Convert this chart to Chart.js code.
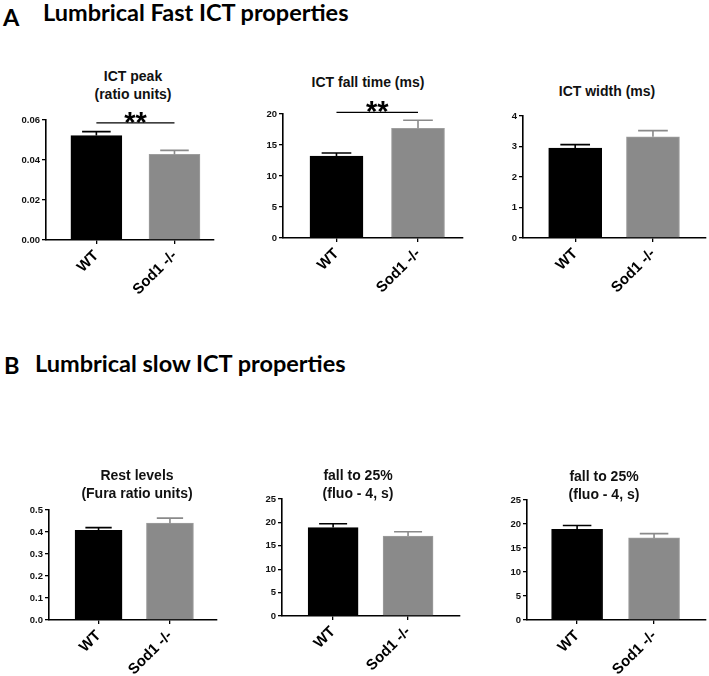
<!DOCTYPE html>
<html lang="en">
<head>
<meta charset="UTF-8">
<title>Lumbrical ICT properties</title>
<script src="https://cdn.jsdelivr.net/npm/chart.js"></script>
<style>
  html, body { margin: 0; padding: 0; background: #fff; overflow: hidden; }
  #page { position: relative; width: 709px; height: 676px; }
  .hdr { position: absolute; font-family: Lato, "DejaVu Sans", sans-serif; font-weight: 700; font-size: 23.5px; line-height: 24px; color: #000; white-space: nowrap; }
  .ttl { position: absolute; width: 220px; text-align: center; font-family: "Liberation Sans", Arial, sans-serif; font-weight: 700; font-size: 14px; line-height: 18px; color: #111; }
  .box { position: absolute; }
</style>
</head>
<body>
<div id="page">
  <div class="hdr" style="left:3px; top:5px;">A</div>
  <div class="hdr" style="left:43px; top:0px;">Lumbrical Fast ICT properties</div>
  <div class="hdr" style="left:4px; top:353px;">B</div>
  <div class="hdr" style="left:35px; top:351px;">Lumbrical slow ICT properties</div>
</div>

<script>
// groups on the x axis
const groups = ['WT', 'Sod1 -/-'];

// A - fast ICT
const peakMean = [0.0522, 0.0428];
const peakSem  = [0.0020, 0.0020];
const fallMean = [13.2, 17.7];
const fallSem  = [0.5, 1.3];
const widthMean = [2.95, 3.32];
const widthSem  = [0.11, 0.20];

// B - slow ICT
const restMean = [0.408, 0.440];
const restSem  = [0.012, 0.023];
const fall25Mean = [18.9, 17.1];
const fall25Sem  = [0.8, 0.9];
const fall25bMean = [18.9, 17.1];
const fall25bSem  = [0.8, 0.9];

// significance bars (y value of the line, null = none)
const sigLevel = [0.0586, 20.25, null, null, null, null];
const sigText = ['**', '**', '', '', '', ''];

const barColors = ['#000000', '#8a8a8a'];
const errColors = ['#000000', '#8a8a8a'];

// layout: chart area [left, top, right, bottom] in page px, x range, bar width, title
const panels = [
  { title: ['ICT peak', '(ratio units)'], mean: peakMean, sem: peakSem, max: 0.06, step: 0.02, dec: 2,
    area: [46, 120, 214, 240], xr: [0.355, 2.506], bw: 51, tx: 133, ty: 76 },
  { title: ['ICT fall time (ms)'], mean: fallMean, sem: fallSem, max: 20, step: 5, dec: 0,
    area: [283, 114, 463, 238], xr: [0.344, 2.552], bw: 53, tx: 368, ty: 82 },
  { title: ['ICT width (ms)'], mean: widthMean, sem: widthSem, max: 4, step: 1, dec: 0,
    area: [523, 116, 706, 238], xr: [0.329, 2.682], bw: 53, tx: 607, ty: 91 },
  { title: ['Rest levels', '(Fura ratio units)'], mean: restMean, sem: restSem, max: 0.5, step: 0.1, dec: 1,
    area: [49, 510, 217, 620], xr: [0.306, 2.659], bw: 47, tx: 137, ty: 475 },
  { title: ['fall to 25%', '(fluo - 4, s)'], mean: fall25Mean, sem: fall25Sem, max: 25, step: 5, dec: 0,
    area: [282, 499, 460, 616], xr: [0.318, 2.693], bw: 50, tx: 358, ty: 475 },
  { title: ['fall to 25%', '(fluo - 4, s)'], mean: fall25bMean, sem: fall25bSem, max: 25, step: 5, dec: 0,
    area: [527, 500, 706, 620], xr: [0.349, 2.675], bw: 51, tx: 604, ty: 476 }
];

const YW = 44, XH = 72, PADT = 14, PADR = 2;
const tickFont = { family: '"Liberation Sans", Arial, sans-serif', weight: 'bold' };

// mean + SEM error bars (upper half only, like the original)
const errorBars = {
  id: 'errorBars',
  afterDatasetsDraw(chart) {
    const ds = chart.data.datasets[0];
    const y = chart.scales.y;
    const ctx = chart.ctx;
    chart.getDatasetMeta(0).data.forEach((bar, i) => {
      const top = y.getPixelForValue(ds.data[i].y + ds.sem[i]);
      const cap = bar.width * 0.28;
      ctx.save();
      ctx.strokeStyle = errColors[i];
      ctx.lineWidth = 1.6;
      ctx.beginPath();
      ctx.moveTo(bar.x, bar.y);
      ctx.lineTo(bar.x, top);
      ctx.moveTo(bar.x - cap, top);
      ctx.lineTo(bar.x + cap, top);
      ctx.stroke();
      ctx.restore();
    });
  }
};

// significance line with stars
const sigMarks = {
  id: 'sigMarks',
  afterDatasetsDraw(chart) {
    const ds = chart.data.datasets[0];
    if (ds.sig == null) return;
    const ctx = chart.ctx;
    const bars = chart.getDatasetMeta(0).data;
    const yy = chart.scales.y.getPixelForValue(ds.sig);
    const x1 = bars[0].x, x2 = bars[1].x;
    ctx.save();
    ctx.strokeStyle = '#000';
    ctx.lineWidth = 1.3;
    ctx.beginPath();
    ctx.moveTo(x1, yy);
    ctx.lineTo(x2, yy);
    ctx.stroke();
    ctx.fillStyle = '#000';
    ctx.font = 'bold 29px "Liberation Sans", Arial, sans-serif';
    ctx.textAlign = 'center';
    ctx.textBaseline = 'middle';
    ctx.fillText(ds.sigLabel, (x1 + x2) / 2, yy + 1);
    ctx.restore();
  }
};

const page = document.getElementById('page');

panels.forEach((p, k) => {
  const [L, T, R, B] = p.area;
  const left = L - YW, top = T - PADT;
  const w = R - left + PADR, h = B - top + XH;

  const box = document.createElement('div');
  box.className = 'box';
  box.style.cssText = `left:${left}px; top:${top}px; width:${w}px; height:${h}px;`;
  const cv = document.createElement('canvas');
  box.appendChild(cv);
  page.appendChild(box);

  const ttl = document.createElement('div');
  ttl.className = 'ttl';
  ttl.style.left = (p.tx - 110) + 'px';
  ttl.style.top = (p.ty - 9) + 'px';
  ttl.innerHTML = p.title.join('<br>');
  page.appendChild(ttl);

  new Chart(cv, {
    type: 'bar',
    data: {
      datasets: [{
        data: groups.map((g, i) => ({ x: i + 1, y: p.mean[i] })),
        sem: p.sem,
        sig: sigLevel[k],
        sigLabel: sigText[k],
        backgroundColor: barColors,
        borderColor: ['#000000', '#9e9e9e'],
        borderWidth: 1,
        barThickness: p.bw
      }]
    },
    options: {
      responsive: true,
      maintainAspectRatio: false,
      animation: false,
      layout: { autoPadding: false, padding: { top: PADT, right: PADR, left: 0, bottom: 0 } },
      plugins: { legend: { display: false }, tooltip: { enabled: false } },
      scales: {
        x: {
          type: 'linear',
          offset: false,
          min: p.xr[0],
          max: p.xr[1],
          afterBuildTicks: s => { s.ticks = groups.map((g, i) => ({ value: i + 1 })); },
          afterFit: s => { s.height = XH; },
          border: { color: '#000', width: 1.6 },
          grid: { offset: false, drawOnChartArea: false, drawTicks: true, tickLength: 4, color: '#000', lineWidth: 1.3 },
          ticks: {
            callback: v => groups[v - 1],
            minRotation: 45, maxRotation: 45, autoSkip: false,
            padding: 3, color: '#000',
            font: Object.assign({ size: 15 }, tickFont)
          }
        },
        y: {
          min: 0,
          max: p.max,
          afterFit: s => { s.width = YW; },
          border: { color: '#000', width: 1.6 },
          grid: { drawOnChartArea: false, drawTicks: true, tickLength: 4, color: '#000', lineWidth: 1.3 },
          ticks: {
            stepSize: p.step,
            padding: 2, color: '#111',
            font: Object.assign({ size: 9.5 }, tickFont),
            callback: v => v.toFixed(p.dec)
          }
        }
      }
    },
    plugins: [errorBars, sigMarks]
  });
});
</script>
</body>
</html>
